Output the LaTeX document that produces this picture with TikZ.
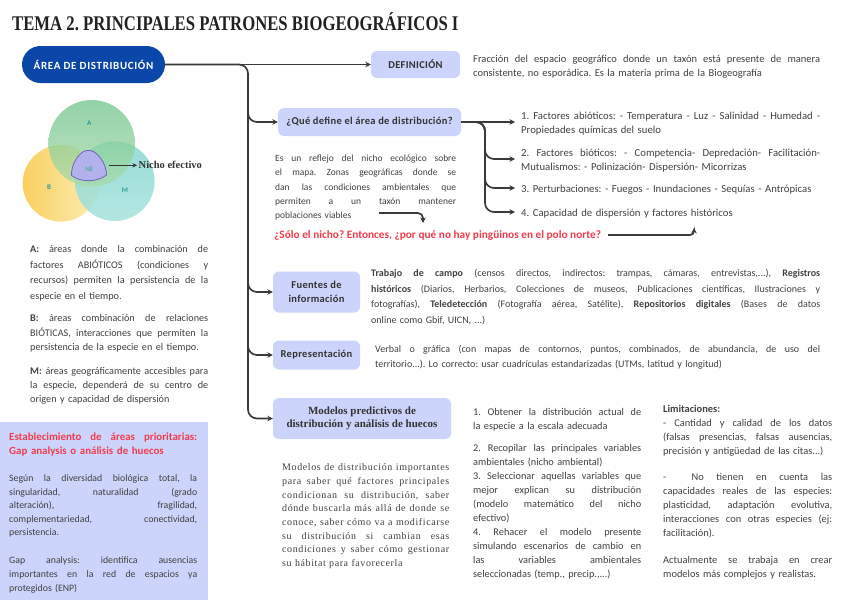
\documentclass[tikz,border=0pt]{standalone}
\usepackage{fontspec}
\usepackage{graphicx}
\setmainfont{Liberation Serif}
\newfontfamily\bodyf{Carlito}
\newfontfamily\lblf[LetterSpace=3]{Carlito}
\newfontfamily\areaf[LetterSpace=6]{Carlito}
\newfontfamily\serls[LetterSpace=6]{Liberation Serif}
\usetikzlibrary{arrows.meta,calc}
\definecolor{txt}{HTML}{404040}
\definecolor{boxt}{HTML}{333333}
\definecolor{dblue}{HTML}{0A47A8}
\definecolor{lav}{HTML}{CDD4FB}
\definecolor{redq}{HTML}{F03C4B}
\definecolor{connc}{HTML}{3A3A3A}
\definecolor{tealc}{HTML}{2A9A9A}
\definecolor{yelA}{HTML}{F8CB4F}
\definecolor{yelB}{HTML}{FDEBB0}
\definecolor{grnA}{HTML}{6EC28A}
\definecolor{grnB}{HTML}{A9DBAA}
\definecolor{tlA}{HTML}{86D6CF}
\definecolor{tlB}{HTML}{A6E2DC}
\definecolor{nefill}{HTML}{B4B2EC}
\definecolor{nedraw}{HTML}{6F63C0}
\newcommand\fsz[2]{\fontsize{#1}{#2}\selectfont}
\newcommand\jline[1]{\par\noindent\hbox to\hsize{\spaceskip=0pt\xspaceskip=0pt\strut #1}\par}
\newcommand\pline[1]{\par\noindent\strut #1\par}
\begin{document}
\frenchspacing
\begin{tikzpicture}[x=1pt,y=-1pt,
  every node/.style={inner sep=0},
  conn/.style={draw=connc, line width=1.7pt, -{Stealth[length=5.5pt,width=5.5pt]}, rounded corners=9pt},
  lbox/.style={fill=lav, rounded corners=6pt, text=boxt, align=center, font=\lblf\bfseries\fsz{10.5}{13}},
  para/.style={anchor=north west, text=txt, align=left},
  vlab/.style={text=tealc, font=\bodyf\bfseries\fsz{7}{8}}]
\useasboundingbox (0,0) rectangle (848,600);

% title
\node[anchor=west, text=black!87, font=\bfseries\fsz{16.7}{18}] (title) at (12,22) {\scalebox{1}[1.25]{TEMA 2. PRINCIPALES PATRONES BIOGEOGRÁFICOS I}};

% main boxes
\node[fill=dblue, rounded corners=18.5pt, minimum width=143pt, minimum height=37pt, text=white, font=\areaf\bfseries\fsz{11}{12}] (area) at (93.5,64.5) {ÁREA DE DISTRIBUCIÓN};
\node[lbox, minimum width=89pt, minimum height=27pt] (def) at (415.5,64.5) {DEFINICIÓN};
\node[lbox, minimum width=183pt, minimum height=28pt] (que) at (369.5,122) {¿Qué define el área de distribución?};
\node[lbox, minimum width=87pt, minimum height=41pt, font=\lblf\bfseries\fsz{10.5}{13.5}] (fuentes) at (316.5,292) {Fuentes de\\información};
\node[lbox, minimum width=87pt, minimum height=29pt] (repr) at (316.5,355) {Representación};
\node[lbox, minimum width=178pt, minimum height=41pt, font=\bfseries\fsz{11}{12.5}] (modelos) at (362,418.5) {Modelos predictivos de\\distribución y análisis de huecos};

% definition text
\node[para, text width=347pt, font=\bodyf\fsz{10.5}{14}] (deftxt) at (473,48.6) {%
\jline{Fracción del espacio geográfico donde un taxón está presente de manera}
\pline{consistente, no esporádica. Es la materia prima de la Biogeografía}};

% items
\node[para, inner xsep=6pt, text width=299pt, font=\bodyf\fsz{10.7}{14}] (item1) at (515,105.7) {%
\jline{1. Factores abióticos: - Temperatura - Luz - Salinidad - Humedad -}
\pline{Propiedades químicas del suelo}};
\node[para, inner xsep=6pt, text width=299pt, font=\bodyf\fsz{10.7}{14}] (item2) at (515,142.7) {%
\jline{2. Factores bióticos: - Competencia- Depredación- Facilitación-}
\pline{Mutualismos: - Polinización- Dispersión- Micorrizas}};
\node[para, inner xsep=6pt, text width=299pt, font=\bodyf\fsz{10.7}{14}] (item3) at (515,178.7) {%
\pline{3. Perturbaciones: - Fuegos - Inundaciones - Sequías - Antrópicas}};
\node[para, inner xsep=6pt, text width=299pt, font=\bodyf\fsz{10.7}{14}] (item4) at (515,202.7) {%
\pline{4. Capacidad de dispersión y factores históricos}};

% reflejo
\node[para, text width=181pt, font=\bodyf\fsz{9.5}{14.25}] (refl) at (275,147.2) {%
\jline{Es un reflejo del nicho ecológico sobre}
\jline{el mapa. Zonas geográficas donde se}
\jline{dan las condiciones ambientales que}
\jline{permiten a un taxón mantener}
\pline{poblaciones viables}};

% red question
\node[anchor=west, text=redq, font=\bodyf\bfseries\fsz{11.3}{13}] (red) at (274,235) {¿Sólo el nicho? Entonces, ¿por qué no hay pingüinos en el polo norte?};

% fuentes text
\node[para, text width=449pt, font=\bodyf\fsz{10}{15.5}] (fuentxt) at (371,261) {%
\jline{\textbf{Trabajo de campo} (censos directos, indirectos: trampas, cámaras, entrevistas,...), \textbf{Registros}}
\jline{\textbf{históricos} (Diarios, Herbarios, Colecciones de museos, Publicaciones científicas, Ilustraciones y}
\jline{fotografías), \textbf{Teledetección} (Fotografía aérea, Satélite), \textbf{Repositorios digitales} (Bases de datos}
\pline{online como Gbif, UICN, ...)}};

% representacion text
\node[para, text width=445pt, font=\bodyf\fsz{10}{14.5}] (reprtxt) at (375,338.2) {%
\jline{Verbal o gráfica (con mapas de contornos, puntos, combinados, de abundancia, de uso del}
\pline{territorio...). Lo correcto: usar cuadrículas estandarizadas (UTMs, latitud y longitud)}};

% modelos text
\node[para, text width=167pt, font=\serls\fsz{10}{13.7}] (modtxt) at (282,456.8) {%
\jline{Modelos de distribución importantes}
\jline{para saber qué factores principales}
\jline{condicionan su distribución, saber}
\jline{dónde buscarla más allá de donde se}
\jline{conoce, saber cómo va a modificarse}
\jline{su distribución si cambian esas}
\jline{condiciones y saber cómo gestionar}
\pline{su hábitat para favorecerla}};

% steps
\node[para, text width=168pt, font=\bodyf\fsz{10.3}{14}] (steps) at (473,401.7) {%
\jline{1. Obtener la distribución actual de}
\pline{la especie a la escala adecuada}\vskip8pt
\jline{2. Recopilar las principales variables}
\pline{ambientales (nicho ambiental)}
\jline{3. Seleccionar aquellas variables que}
\jline{mejor explican su distribución}
\jline{(modelo matemático del nicho}
\pline{efectivo)}
\jline{4. Rehacer el modelo presente}
\jline{simulando escenarios de cambio en}
\jline{las variables ambientales}
\pline{seleccionadas (temp., precip.,...)}};

% limitaciones
\node[para, text width=169pt, font=\bodyf\fsz{10.4}{14}] (limit) at (663,398.6) {%
\pline{\textbf{Limitaciones:}}
\jline{- Cantidad y calidad de los datos}
\jline{(falsas presencias, falsas ausencias,}
\pline{precisión y antigüedad de las citas...)}\vskip12pt
\jline{- \ No tienen en cuenta las}
\jline{capacidades reales de las especies:}
\jline{plasticidad, adaptación evolutiva,}
\jline{interacciones con otras especies (ej:}
\pline{facilitación).}\vskip13pt
\jline{Actualmente se trabaja en crear}
\pline{modelos más complejos y realistas.}};

% left texts A B M
\node[para, text width=178pt, font=\bodyf\fsz{10.2}{15.5}] (txA) at (30,237) {%
\jline{\textbf{A:} áreas donde la combinación de}
\jline{factores ABIÓTICOS (condiciones y}
\jline{recursos) permiten la persistencia de la}
\pline{especie en el tiempo.}};
\node[para, text width=178pt, font=\bodyf\fsz{10.2}{14.3}] (txB) at (30,307.3) {%
\jline{\textbf{B:} áreas combinación de relaciones}
\jline{BIÓTICAS, interacciones que permiten la}
\pline{persistencia de la especie en el tiempo.}};
\node[para, text width=178pt, font=\bodyf\fsz{10.2}{14}] (txM) at (30,360) {%
\jline{\textbf{M:} áreas geográficamente accesibles para}
\jline{la especie, dependerá de su centro de}
\pline{origen y capacidad de dispersión}};

% blue box
\node[anchor=north west, fill=lav, minimum width=208pt, minimum height=178pt] (gapbox) at (0,422) {};
\node[para, text width=188pt, text=redq, font=\bodyf\bfseries\fsz{10.9}{13.3}] (gaptit) at (9,427.2) {%
\jline{Establecimiento de áreas prioritarias:}
\pline{Gap analysis o análisis de huecos}};
\node[para, text width=188pt, font=\bodyf\fsz{9.8}{13.5}] (gapt1) at (9,467.8) {%
\jline{Según la diversidad biológica total, la}
\jline{singularidad, naturalidad (grado}
\jline{alteración), fragilidad,}
\jline{complementariedad, conectividad,}
\pline{persistencia.}};
\node[para, text width=188pt, font=\bodyf\fsz{9.8}{14}] (gapt2) at (9,549) {%
\jline{Gap analysis: identifica ausencias}
\jline{importantes en la red de espacios ya}
\pline{protegidos (ENP)}};

% connectors
\coordinate (tk) at (248,0);
\coordinate (b1) at (248,104);
\coordinate (b2) at (248,272);
\coordinate (b3) at (248,336);
\coordinate (qx) at (485,0);
\draw[conn] (area.east) -- (def.west);
\draw[conn] (area.east) -| (tk |- modelos.west) -- (modelos.west);
\draw[conn] (b1) |- (que.west);
\draw[conn] (b2) |- (fuentes.west);
\draw[conn] (b3) |- (repr.west);
\draw[conn] (que.east) -- (que.east -| item1.west);
\draw[conn] (que.east) -| (qx |- item2.west) -- (item2.west);
\draw[conn] (que.east) -| (qx |- item3.west) -- (item3.west);
\draw[conn] (que.east) -| (qx |- item4.west) -- (item4.west);
\coordinate (pa) at (379,213);
\coordinate (pb) at (423,223);
\draw[conn, rounded corners=5pt] (pa) -| (pb);
\coordinate (rb) at (694,228);
\draw[conn, rounded corners=4pt] ([xshift=7pt]red.east) -| (rb);

% Venn diagram
\shade[left color=yelA, right color=yelB, fill opacity=0.9] (61,183.3) circle (38.3);
\shade[top color=tlA, bottom color=tlB, fill opacity=0.85] (114.8,181.2) circle (39.8);
\shade[top color=grnA, bottom color=grnB, fill opacity=0.75] (91.7,143.3) circle (43.3);
\draw[fill=nefill, draw=nedraw, line width=0.8pt] (86,150.5) .. controls (97,148) and (107,165) .. (106.5,175) .. controls (97,182.5) and (81,182.5) .. (71.5,175.5) .. controls (71,165) and (78,153) .. (86,150.5) -- cycle;
\node[vlab] (lA) at (89.3,123.3) {A};
\node[vlab] (lB) at (49,187.3) {B};
\node[vlab] (lM) at (125,190) {M};
\node[vlab, text=tealc!80!white] (ne) at (89.3,169) {NE};
\coordinate (nee) at (109,165.3);
\node[anchor=west, inner xsep=1.5pt, text=boxt, font=\bfseries\fsz{10.5}{12}] (nicho) at (137,165.3) {Nicho efectivo};
\draw[-{Stealth[length=4.5pt,width=4.5pt]}, line width=1.2pt, draw=boxt] (nee) -- (nicho.west);
\end{tikzpicture}
\end{document}
